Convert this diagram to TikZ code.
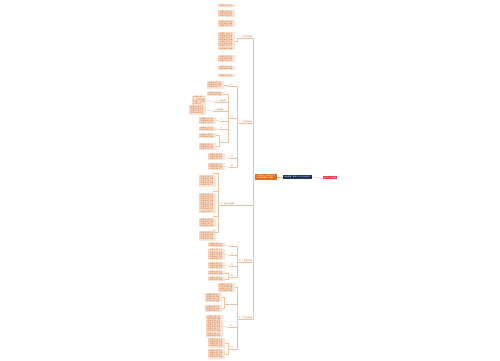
\documentclass[tikz,border=0pt]{standalone}
\usepackage{fontspec}
\newfontfamily\cjk{Noto Sans CJK SC}
\XeTeXlinebreaklocale "zh"
\XeTeXlinebreakskip=0pt plus 0.5pt
\definecolor{leafbg}{HTML}{FBE6D5}
\definecolor{leaftx}{HTML}{C4622A}
\definecolor{linkc}{HTML}{EBC3A3}
\definecolor{rootc}{HTML}{E0701E}
\definecolor{navyc}{HTML}{1B3556}
\definecolor{redc}{HTML}{E3364B}
% filler lines, nine characters each
\newcommand\wen[1]{\foreach\k in {1,...,#1}{\ifodd\k 认真做好本职工作，\else 不断提高教学质量。\fi\hspace{0pt}}}
\begin{document}
\begin{tikzpicture}[x=1pt,y=-1pt,
  leaf/.style={fill=leafbg,text=leaftx,font=\cjk\fontsize{1.75pt}{2.1pt}\selectfont,text width=#1,inner sep=0.6pt,anchor=east,align=left},
  leaf/.default=15.8pt,
  lab/.style={text=leaftx,font=\cjk\fontsize{1.7pt}{2.1pt}\selectfont,inner sep=0.4pt,anchor=east},
  link/.style={draw=linkc,line width=0.3pt}]
\fill[white] (0,0) rectangle (500,360);
\useasboundingbox (0,0) rectangle (500,360);

% centre
\node[fill=rootc,text=white,font=\cjk\fontsize{1.8pt}{2.2pt}\selectfont,text width=19pt,inner sep=1.4pt,align=left] (root) at (266,177) {小学教师个人年度工作计划范文精选（五篇）};
\node[fill=navyc,text=white,font=\cjk\fontsize{1.6pt}{2pt}\selectfont,text width=27pt,inner sep=0.8pt,align=center] (navy) at (297.5,177) {相关推荐：教师个人工作计划范文};
\node[fill=redc,text=white,font=\cjk\fontsize{1.6pt}{2pt}\selectfont,inner sep=1pt] (tag) at (330,177.5) {教师工作计划模板};
\draw[link] (root.east) -- (navy.west);
\draw[link] (navy.east) -- (tag.west);

% first level
\node[lab] (ka) at (253,36.5) {一、工作指导思想};
\node[lab] (kb) at (253,121.5) {二、工作目标任务};
\node[lab] (kc) at (235,203.5) {三、具体工作措施};
\node[lab] (kd) at (253,260.5) {四、工作重点安排};
\node[lab] (ke) at (253,317.5) {五、工作时间安排};
\foreach \n in {ka,kb,kc,kd,ke}
  \draw[link] (root.west) -- ++(-2,0) |- (\n.south east);

% branch one
\node[leaf] (a1) at (235,5.5) {\wen{1}};
\node[leaf] (a2) at (235,13.5) {\wen{3}};
\node[leaf] (a3) at (235,23.5) {\wen{3}};
\node[leaf] (a4) at (235,41) {\wen{8}};
\node[leaf] (a5) at (235,58.5) {\wen{3}};
\node[leaf] (a6) at (235,68) {\wen{2}};
\node[leaf] (a7) at (235,75.5) {\wen{1}};
\draw[link] (ka.south west) -- ++(-1,0) |- (a4.east);

% branch two
\node[lab] (b1) at (235,84.5) {（一）};
\node[lab] (b2) at (235,116.5) {（二）};
\node[lab] (b3) at (235,156.5) {（三）};
\node[lab] (b4) at (235,165.5) {（四）};
\foreach \n in {b1,b2,b3,b4}
  \draw[link] (kb.south west) -- ++(-1,0) |- (\n.south east);
\node[leaf] (bb1) at (224,85) {\wen{3}};
\node[leaf] (bb2) at (224,94) {\wen{2}};
\node[lab] (c1) at (226,100.5) {1、认真备课};
\node[lab] (c2) at (224,109.5) {2、班级管理};
\node[lab] (c3) at (224,119.5) {3、};
\node[lab] (c4) at (224,128) {4、};
\node[lab] (c5) at (224,140.5) {5、};
\node[leaf=12.6pt] (cc1) at (206,100.5) {\wen{3}};
\node[leaf] (cc2) at (206,110) {\wen{4}};
\node[leaf] (dd1) at (216,120.5) {\wen{3}};
\node[leaf] (dd2) at (216,129) {\wen{2}};
\node[leaf] (dd3) at (216,135.5) {\wen{2}};
\node[leaf] (dd4) at (216,146.5) {\wen{3}};
\node[leaf] (bb3) at (225,156.5) {\wen{3}};
\node[leaf] (bb4) at (225,166.5) {\wen{3}};
\draw[link] (b1.south west) -- ++(-1,0) |- (bb1.east);
\draw[link] (b2.south west) -- ++(-1,0) |- (bb2.east);
\foreach \n in {c1,c2,c3,c4,c5}
  \draw[link] (b2.south west) -- ++(-1,0) |- (\n.south east);
\draw[link] (c1.south west) -- (cc1.east);
\draw[link] (c2.south west) -- (cc2.east);
\draw[link] (c3.south west) -- (dd1.east);
\draw[link] (c4.south west) -- (dd2.east);
\draw[link] (c5.south west) -- ++(-1,0) |- (dd3.east);
\draw[link] (c5.south west) -- ++(-1,0) |- (dd4.east);
\draw[link] (b3.south west) -- (bb3.east);
\draw[link] (b4.south west) -- (bb4.east);

% branch three
\node[lab] (h1) at (216,172.5) {一};
\node[lab] (h2) at (216,189.5) {二};
\node[lab] (h3) at (216,214.5) {三};
\node[lab] (h4) at (216,230.5) {四};
\foreach \n in {h1,h2,h3,h4}
  \draw[link] (kc.south west) -- ++(-2,0) |- (\n.south east);
\node[leaf] (k1) at (216,181) {\wen{5}};
\node[leaf] (k2) at (216,203) {\wen{9}};
\node[leaf] (k3) at (216,222.5) {\wen{4}};
\node[leaf] (k4) at (216,236) {\wen{4}};

% branch four
\node[lab] (e1) at (235,244.5) {（一）};
\node[lab] (e2) at (235,253.5) {（二）};
\node[lab] (e3) at (235,264.5) {（三）};
\node[lab] (e4) at (235,275.5) {（四）};
\foreach \n in {e1,e2,e3,e4}
  \draw[link] (kd.south west) -- ++(-1,0) |- (\n.south east);
\node[leaf] (ee1) at (225,245) {\wen{2}};
\node[leaf] (ee2) at (225,254.5) {\wen{5}};
\node[leaf] (ee3) at (225,265.5) {\wen{3}};
\node[leaf] (ee4) at (225,273) {\wen{2}};
\node[leaf] (ee5) at (225,279) {\wen{2}};
\draw[link] (e1.south west) -- (ee1.east);
\draw[link] (e2.south west) -- (ee2.east);
\draw[link] (e3.south west) -- (ee3.east);
\draw[link] (e4.south west) -- ++(-1,0) |- (ee4.east);
\draw[link] (e4.south west) -- ++(-1,0) |- (ee5.east);

% branch five
\node[leaf] (f0) at (235,287.5) {\wen{4}};
\node[lab] (f1) at (231,302.5) {（一）};
\node[lab] (f2) at (234,325.5) {（二）};
\node[lab] (f3) at (235,347.5) {（三）};
\draw[link] (ke.south west) -- ++(-1,0) |- (f0.east);
\foreach \n in {f1,f2,f3}
  \draw[link] (ke.south west) -- ++(-1,0) |- (\n.south east);
\node[leaf] (ff1) at (222,297.5) {\wen{4}};
\node[leaf] (ff2) at (222,308.5) {\wen{3}};
\node[leaf] (ff3) at (223,326) {\wen{10}};
\node[leaf] (ff4) at (225,343) {\wen{4}};
\node[leaf] (ff5) at (225,354) {\wen{4}};
\draw[link] (f1.south west) -- ++(-1,0) |- (ff1.east);
\draw[link] (f1.south west) -- ++(-1,0) |- (ff2.east);
\draw[link] (f2.south west) -- (ff3.east);
\draw[link] (f3.south west) -- ++(-1,0) |- (ff4.east);
\draw[link] (f3.south west) -- ++(-1,0) |- (ff5.east);

% underlines of the labels
\foreach \n in {ka,kb,kc,kd,ke,b1,b2,b3,b4,c1,c2,c3,c4,c5,h1,h2,h3,h4,e1,e2,e3,e4,f1,f2,f3}
  \draw[link] (\n.south west) -- (\n.south east);
\end{tikzpicture}
\end{document}
